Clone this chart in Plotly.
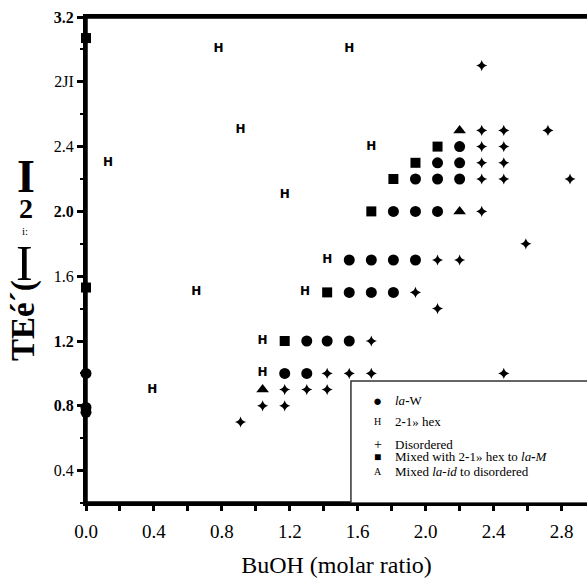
import plotly.graph_objects as go

# Phase diagram: BuOH molar ratio (x) versus second composition axis (y)

# la-W phase (filled circles)
law_x = [2.20, 2.07, 2.20, 1.94, 2.07, 2.20, 1.81, 1.94, 2.07,
         1.55, 1.68, 1.81, 1.94, 1.55, 1.68, 1.81, 1.30, 1.42, 1.55,
         1.17, 1.30, 0.0, 0.0, 0.0]
law_y = [2.40, 2.30, 2.30, 2.20, 2.20, 2.20, 2.00, 2.00, 2.00,
         1.70, 1.70, 1.70, 1.70, 1.50, 1.50, 1.50, 1.20, 1.20, 1.20,
         1.00, 1.00, 1.00, 0.79, 0.76]

# 2-D hex phase (H)
hex_x = [0.78, 1.55, 0.91, 0.13, 1.68, 1.17, 1.42, 0.65, 1.29, 1.04, 1.04, 0.39]
hex_y = [3.00, 3.00, 2.50, 2.30, 2.40, 2.10, 1.70, 1.50, 1.50, 1.20, 1.00, 0.90]

# Disordered (+)
dis_x = [2.33, 2.33, 2.46, 2.72, 2.33, 2.46, 2.33, 2.46, 2.33, 2.46, 2.85,
         2.33, 2.59, 2.07, 2.20, 1.94, 2.07, 1.68, 1.42, 1.55, 1.68, 2.46,
         1.17, 1.30, 1.42, 1.04, 1.17, 0.91]
dis_y = [2.90, 2.50, 2.50, 2.50, 2.40, 2.40, 2.30, 2.30, 2.20, 2.20, 2.20,
         2.00, 1.80, 1.70, 1.70, 1.50, 1.40, 1.20, 1.00, 1.00, 1.00, 1.00,
         0.90, 0.90, 0.90, 0.80, 0.80, 0.70]

# Mixed with 2-D hex to la-M (squares)
mixm_x = [2.07, 1.94, 1.81, 1.68, 1.42, 1.17, 0.0, 0.0]
mixm_y = [2.40, 2.30, 2.20, 2.00, 1.50, 1.20, 3.07, 1.53]

# Mixed la-id to disordered (triangles)
mixd_x = [2.20, 2.20, 1.04]
mixd_y = [2.50, 2.00, 0.90]

x_ticks = [0.0, 0.4, 0.8, 1.2, 1.6, 2.0, 2.4, 2.8]
x_ticktext = ["0.0", "0.4", "0.8", "1.2", "1.6", "2.0", "2.4", "2.8"]
y_ticks = [0.4, 0.8, 1.2, 1.6, 2.0, 2.4, 2.8, 3.2]
y_ticktext = ["0.4", "<b>0.8</b>", "<b>1.2</b>", "1.6", "<b>2.0</b>", "2.4", "2JI", "<b>3.2</b>"]

legend_labels = [
    "<i>la</i><b>-</b>W",
    "2<b>-</b>1» hex",
    "Disordered",
    "Mixed with 2<b>-</b>1» hex to <i>la<b>-</b>M</i>",
    "Mixed <i>la-id</i> to disordered",
]
legend_symbols = ["●", "H", "+", "■", "A"]

SERIF = "Liberation Serif"

# plot-area geometry in pixels, used to place the free-standing title pieces
L, R, T, B = 86, 587, 17, 503


def px_to_paper(px, py):
    return (px - L) / (R - L), (B - py) / (B - T)


fig = go.Figure()

fig.add_trace(go.Scatter(
    x=law_x, y=law_y, mode="markers", cliponaxis=False,
    marker=dict(symbol="circle", size=11, color="black"),
))
fig.add_trace(go.Scatter(
    x=mixm_x, y=mixm_y, mode="markers", cliponaxis=False,
    marker=dict(symbol="square", size=10, color="black"),
))
fig.add_trace(go.Scatter(
    x=mixd_x, y=mixd_y, mode="markers", cliponaxis=False,
    marker=dict(symbol="triangle-up", size=11, color="black"),
))
fig.add_trace(go.Scatter(
    x=dis_x, y=dis_y, mode="markers", cliponaxis=False,
    marker=dict(symbol="star-diamond", size=8, color="black"),
))
fig.add_trace(go.Scatter(
    x=hex_x, y=hex_y, mode="text", cliponaxis=False,
    text=["<b>H</b>"] * len(hex_x), textposition="middle center",
    textfont=dict(family="DejaVu Sans", size=12, color="black"),
))

axis_common = dict(
    showline=True, linewidth=3, linecolor="black",
    ticks="outside", tickwidth=2.5, tickcolor="black",
    showgrid=False, zeroline=False,
)

fig.update_xaxes(
    range=[0, 2.95], tickvals=x_ticks, ticktext=x_ticktext, ticklen=5,
    mirror=True, ticklabelstandoff=4,
    tickfont=dict(family=SERIF, size=19, color="black"),
    minor=dict(ticks="outside", dtick=0.2, tick0=0, ticklen=5, tickwidth=2.5, tickcolor="black"),
    title=dict(text="BuOH (molar ratio)", font=dict(family=SERIF, size=24, color="black"), standoff=16),
    **axis_common,
)
fig.update_yaxes(
    range=[0.2, 3.2], tickvals=y_ticks, ticktext=y_ticktext, ticklen=6,
    tickfont=dict(family=SERIF, size=16, color="black"),
    minor=dict(ticks="outside", dtick=0.2, tick0=0.2, ticklen=3, tickwidth=2, tickcolor="black"),
    **axis_common,
)

# heavy frame lines along the left, bottom and top edges
for x0, y0, x1, y1 in [(0, 0, 0, 1), (0, 0, 1, 0), (0, 1, 1, 1)]:
    fig.add_shape(type="line", xref="paper", yref="paper", x0=x0, y0=y0, x1=x1, y1=y1,
                  line=dict(color="black", width=3.5), layer="above")

# Hand-drawn legend box in the lower right corner
fig.add_shape(type="rect", xref="x", yref="y", x0=1.56, x1=3.1, y0=0.2, y1=0.953,
              line=dict(color="#333333", width=1.5), fillcolor="white", layer="above")

legend_rows_y = [0.83, 0.706, 0.560, 0.484, 0.393]
for sym, lab, yy in zip(legend_symbols, legend_labels, legend_rows_y):
    sym_size = {"●": 15, "■": 12, "+": 14, "H": 10, "A": 10}[sym]
    fig.add_annotation(x=1.718, y=yy, xref="x", yref="y", text=sym, showarrow=False,
                       xanchor="center", yanchor="middle",
                       font=dict(family=SERIF, size=sym_size, color="black"))
    fig.add_annotation(x=1.81, y=yy, xref="x", yref="y", text=lab, showarrow=False,
                       xanchor="left", yanchor="middle",
                       font=dict(family=SERIF, size=13, color="black"))

# y-axis title, built from rotated and upright pieces
title_pieces = [
    # (text, px, py, size, angle)
    ("<b>TEé´(</b>", 23, 321, 33, -90),
    ("I", 24, 263, 50, 0),
    ("i:", 25, 231, 11, 0),
    ("<b>2</b>", 26, 208, 28, 0),
    ("<b>I</b>", 26, 176, 46, 0),
]
for txt, px, py, size, ang in title_pieces:
    xp, yp = px_to_paper(px, py)
    fig.add_annotation(
        xref="paper", yref="paper", x=xp, y=yp, xanchor="center", yanchor="middle",
        textangle=ang, showarrow=False, text=txt,
        font=dict(family=SERIF, size=size, color="black"),
    )

fig.update_layout(
    width=587, height=581,
    margin=dict(l=L, r=587 - R, t=T, b=581 - B),
    plot_bgcolor="white", paper_bgcolor="white",
    showlegend=False,
)

fig.write_html("out.html")
